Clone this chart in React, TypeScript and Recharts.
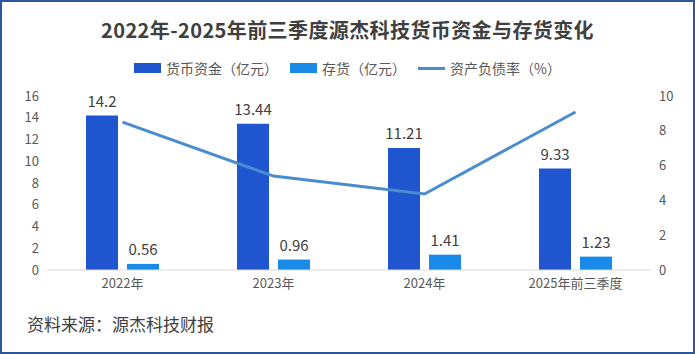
import React from 'react';
import { ComposedChart, Bar, Line, XAxis, YAxis, LabelList } from 'recharts';

const categories = ['2022年', '2023年', '2024年', '2025年前三季度'];
const cashValues = [14.2, 13.44, 11.21, 9.33];
const inventoryValues = [0.56, 0.96, 1.41, 1.23];
const debtRatioValues = [8.5, 5.4, 4.37, 9.08];
const leftTicks = [0, 2, 4, 6, 8, 10, 12, 14, 16];
const rightTicks = [0, 2, 4, 6, 8, 10];

const data = categories.map((c, i) => ({
  name: c,
  cash: cashValues[i],
  inventory: inventoryValues[i],
  debt: debtRatioValues[i],
}));

const FONT = '"Microsoft YaHei", "Noto Sans CJK SC", "Noto Sans", sans-serif';
const DARK = '#1f55cf';
const LIGHT = '#1a8ae8';
const LINE = '#4a8cd0';

const legendItems = [
  { label: '货币资金（亿元）', color: DARK, type: 'rect' },
  { label: '存货（亿元）', color: LIGHT, type: 'rect' },
  { label: '资产负债率（%）', color: LINE, type: 'line' },
];

export default function App() {
  return (
    <div
      style={{
        position: 'absolute',
        left: 0,
        top: 0,
        width: 695,
        height: 354,
        boxSizing: 'border-box',
        border: '2px solid #2b579a',
        background: '#ffffff',
        fontFamily: FONT,
        overflow: 'hidden',
      }}
    >
      <div
        style={{
          position: 'absolute',
          left: 0,
          top: 15,
          width: 691,
          textAlign: 'center',
          fontSize: 20,
          fontWeight: 'bold',
          color: '#404040',
          lineHeight: '26px',
          letterSpacing: 0.4,
        }}
      >
        2022年-2025年前三季度源杰科技货币资金与存货变化
      </div>
      <div
        style={{
          position: 'absolute',
          left: 0,
          top: 56,
          width: 691,
          height: 20,
          display: 'flex',
          justifyContent: 'center',
          alignItems: 'center',
          fontSize: 14,
          color: '#595959',
        }}
      >
        {legendItems.map((it, i) => (
          <div key={i} style={{ display: 'flex', alignItems: 'center', marginRight: i < 2 ? 12 : 0 }}>
            <div style={{ width: 27, height: it.type === 'rect' ? 10 : 3, background: it.color, marginRight: 5 }} />
            <span>{it.label}</span>
          </div>
        ))}
      </div>
      <div style={{ position: 'absolute', left: -2, top: -2 }}>
        <ComposedChart
          width={695}
          height={354}
          data={data}
          margin={{ top: 96, right: 0, bottom: 54, left: 0 }}
          barGap={9}
        >
          <XAxis
            dataKey="name"
            axisLine={{ stroke: '#d9d9d9' }}
            tickLine={false}
            tickSize={0}
            tickMargin={9}
            height={30}
            interval={0}
            tick={{ fontSize: 13, fill: '#595959', fontFamily: FONT }}
          />
          <YAxis
            yAxisId="left"
            domain={[0, 16]}
            ticks={leftTicks}
            interval={0}
            axisLine={false}
            tickLine={false}
            tickSize={0}
            tickMargin={8}
            width={47}
            tick={{ fontSize: 13, fill: '#595959', fontFamily: FONT }}
          />
          <YAxis
            yAxisId="right"
            orientation="right"
            domain={[0, 10]}
            ticks={rightTicks}
            interval={0}
            axisLine={false}
            tickLine={false}
            tickSize={0}
            tickMargin={8}
            width={44}
            tick={{ fontSize: 13, fill: '#595959', fontFamily: FONT }}
          />
          <Bar yAxisId="left" dataKey="cash" fill={DARK} barSize={32} isAnimationActive={false}>
            <LabelList dataKey="cash" position="top" offset={9} style={{ fontSize: 15, fill: '#404040', fontFamily: FONT }} />
          </Bar>
          <Bar yAxisId="left" dataKey="inventory" fill={LIGHT} barSize={32} isAnimationActive={false}>
            <LabelList dataKey="inventory" position="top" offset={9} style={{ fontSize: 15, fill: '#404040', fontFamily: FONT }} />
          </Bar>
          <Line
            yAxisId="right"
            dataKey="debt"
            stroke={LINE}
            strokeWidth={3}
            dot={false}
            activeDot={false}
            isAnimationActive={false}
          />
        </ComposedChart>
      </div>
      <div
        style={{
          position: 'absolute',
          left: 25,
          top: 311,
          fontSize: 17,
          color: '#404040',
          lineHeight: '22px',
        }}
      >
        资料来源：源杰科技财报
      </div>
    </div>
  );
}
